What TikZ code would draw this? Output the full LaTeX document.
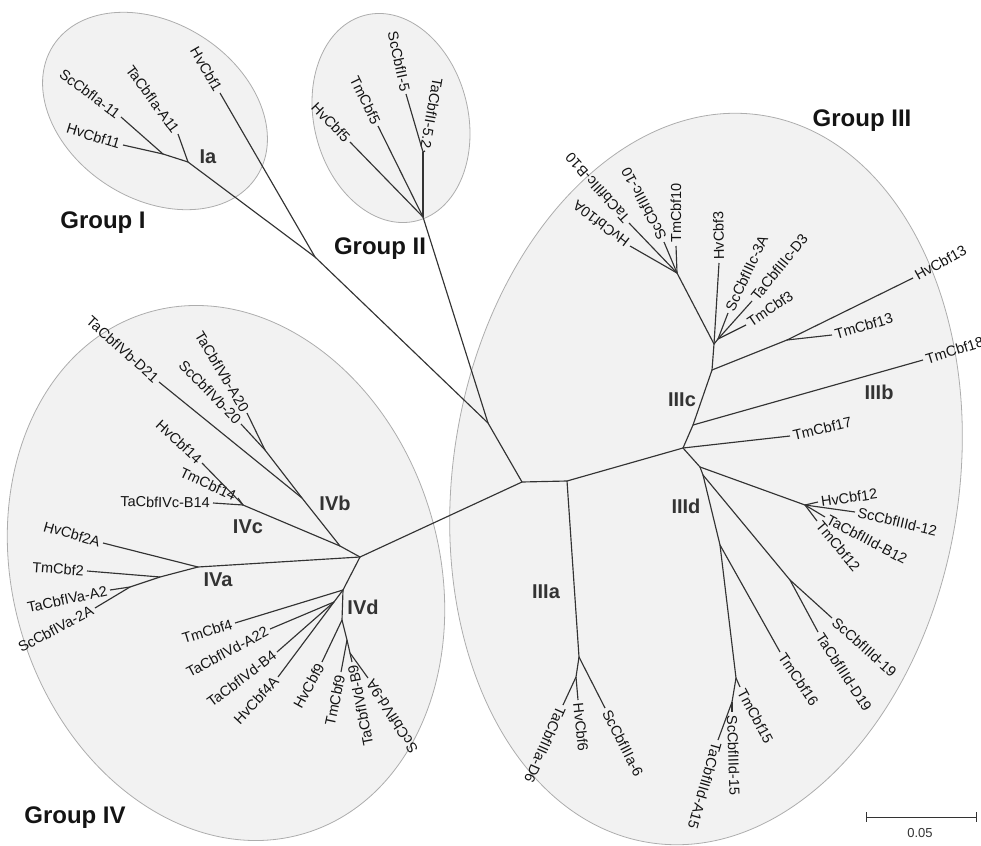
\documentclass[tikz,border=0pt]{standalone}
\usepackage{fontspec}
\setmainfont{Liberation Sans}
\usetikzlibrary{calc}
\tikzstyle{branch}=[draw=black!80, line width=1.15pt]
\tikzstyle{leaf}=[font=\fontsize{14.5}{16}\selectfont, text=black!92, inner sep=3pt]
\tikzstyle{clade}=[font=\fontsize{20}{24}\selectfont\bfseries, text=black!80]
\tikzstyle{grouplabel}=[font=\fontsize{24}{28}\selectfont\bfseries, text=black!92]
\tikzstyle{oval}=[fill=black!5, draw=black!32, line width=0.8pt]

\begin{document}
\begin{tikzpicture}[x=1pt,y=-1pt]
\useasboundingbox (0,0) rectangle (981,845);
\draw[oval, rotate around={-32.6:(155,111)}] (155,111) ellipse [x radius=121, y radius=88];
\draw[oval, rotate around={-76:(391,118)}] (391,118) ellipse [x radius=106, y radius=77];
\draw[oval, rotate around={81.2:(706,479)}] (706,479) ellipse [x radius=368, y radius=253];
\draw[oval, rotate around={-73:(226,573)}] (226,573) ellipse [x radius=272, y radius=213];

\foreach \n/\x/\y in {rA/522/482, rB/567/481, rC/488/423, gI/315/257, nIa/188/162, nIa2/163/154,
  gII/423/217, nII5/423/152, rD/683/448, n18/693/425, n13/712/370, n13b/787/340, nIIIc/714/344,
  nIIIc3/718/339, n10/677/273, nIIIa/579/657, nIIIa6/576/677, nd0/700/467, nd12/805/505,
  nd1/703/475, nd19/790/580, nd16/720/545, nd15/736/678, nd15b/732/702, rIV/360/557,
  nIVbc/340/546, nIVb/302/498, nIVb20/265/450, nIVc/243/505, nIVa/198/567, nIVa2/160/577,
  nIVa3/130/587, nIVd/343/590, nIVd4/334/602, nIVd9/342/620, nIVd9b/347/640, nIVd9c/350/653} {
  \coordinate (\n) at (\x,\y);
}

\foreach \n/\x/\y/\a/\s/\t in {
  tHv1/220/93/-60/east/HvCbf1, tTaIa/178/134/-54/east/TaCbfIa-A11, tScIa/121/117/-37/east/ScCbfIa-11,
  tHv11/123/145/-17/east/HvCbf11,
  tTa5/425/151/-100/east/TaCbfII-5.2, tSc5/406/94/-78/east/ScCbfII-5, tTm5/378/126/-64/east/TmCbf5,
  tHv5/350/142/-46/east/HvCbf5,
  tHv10/630/246/143/west/HvCbf10A, tTa10/629/223/132/west/TaCbfIIIc-B10, tSc10/664/242/118/west/ScCbfIIIc-10,
  tTm10/676/246/90/west/TmCbf10, tHv3/719/263/91/west/HvCbf3, tSc3/728/313/65/west/ScCbfIIIc-3A,
  tTa3/752/301/51/west/TaCbfIIIc-D3, tTm3/746/325/34/west/TmCbf3, tHv13/913/278/29/west/HvCbf13,
  tTm13/832/335/16/west/TmCbf13, tTm18/923/360/17/west/TmCbf18, tTm17/790/436/13/west/TmCbf17,
  tHv12/818/502/8/west/HvCbf12, tSc12/855/512/-13/west/ScCbfIIId-12, tTa12/825/517/-28/west/TaCbfIIId-B12,
  tTm12/817/521/-50/west/TmCbf12, tSc19/832/618/-42/west/ScCbfIIId-19, tTa19/818/632/-57/west/TaCbfIIId-D19,
  tTm16/780/652/-56/west/TmCbf16, tTm15/740/687/-62/west/TmCbf15, tSc15/732/712/-88/west/ScCbfIIId-15,
  tTa15/718/740/-106/west/TaCbfIIId-A15,
  tTa6/563/705/-114/west/TaCbfIIIa-D6, tHv6/578/700/-84/west/HvCbf6, tSc6/605/708/-63/west/ScCbfIIIa-6,
  tTa21/159/382/-42/east/TaCbfIVb-D21, tTa20/247/413/-59/east/TaCbfIVb-A20, tSc20/241/424/-46/east/ScCbfIVb-20,
  tHv14/202/463/-43/east/HvCbf14, tTm14/238/498/-25/east/TmCbf14, tTa14/213/503/-1/east/TaCbfIVc-B14,
  tHv2/103/543/-16/east/HvCbf2A, tTm2/87/571/-4/east/TmCbf2, tTa2/110/590/12/east/TaCbfIVa-A2,
  tSc2/95/608/28/east/ScCbfIVa-2A, tTm4/235/623/17/east/TmCbf4, tTa22/270/629/28/east/TaCbfIVd-A22,
  tTaB4/277/652/37/east/TaCbfIVd-B4, tHv4/278/677/47/east/HvCbf4A, tHv9/322/662/61/east/HvCbf9,
  tTm9/341/672/78/east/TmCbf9, tTa9/352/662/101/east/TaCbfIVd-B9, tSc9/368/678/122/east/ScCbfIVd-9A} {
  \coordinate (\n) at (\x,\y);
  \node[leaf, rotate=\a, anchor=\s] (l\n) at (\n) {\t};
}

\foreach \p/\c in {rA/rB, rA/rC, rA/rIV, rB/rD, rB/nIIIa, rC/gI, rC/gII,
  gI/tHv1, gI/nIa, nIa/tTaIa, nIa/nIa2, nIa2/tScIa, nIa2/tHv11,
  gII/nII5, nII5/tSc5, nII5/tTa5, gII/tTm5, gII/tHv5,
  rD/tTm17, rD/n18, n18/tTm18, n18/n13, n13/n13b, n13b/tHv13, n13b/tTm13, n13/nIIIc,
  nIIIc/tHv3, nIIIc/nIIIc3, nIIIc3/tSc3, nIIIc3/tTa3, nIIIc3/tTm3, nIIIc/n10,
  n10/tHv10, n10/tTa10, n10/tSc10, n10/tTm10,
  rD/nd0, nd0/nd12, nd12/tHv12, nd12/tSc12, nd12/tTa12, nd12/tTm12, nd0/nd1, nd1/nd19,
  nd19/tSc19, nd19/tTa19, nd1/nd16, nd16/tTm16, nd16/nd15, nd15/tTm15, nd15/nd15b,
  nd15b/tSc15, nd15b/tTa15,
  nIIIa/tSc6, nIIIa/nIIIa6, nIIIa6/tHv6, nIIIa6/tTa6,
  rIV/nIVbc, nIVbc/nIVb, nIVb/tTa21, nIVb/nIVb20, nIVb20/tTa20, nIVb20/tSc20,
  nIVbc/nIVc, nIVc/tHv14, nIVc/tTm14, nIVc/tTa14,
  rIV/nIVa, nIVa/tHv2, nIVa/nIVa2, nIVa2/tTm2, nIVa2/nIVa3, nIVa3/tTa2, nIVa3/tSc2,
  rIV/nIVd, nIVd/tTm4, nIVd/nIVd4, nIVd4/tTa22, nIVd4/tTaB4, nIVd4/tHv4, nIVd/nIVd9,
  nIVd9/tHv9, nIVd9/nIVd9b, nIVd9b/tTm9, nIVd9b/nIVd9c, nIVd9c/tTa9, nIVd9c/tSc9} {
  \draw[branch] (\p) -- (\c);
}

\node[clade] (cIa) at (208,157) {Ia};
\node[clade] (cIIIa) at (546,592) {IIIa};
\node[clade] (cIIIb) at (879,392) {IIIb};
\node[clade] (cIIIc) at (682,400) {IIIc};
\node[clade] (cIIId) at (686,506) {IIId};
\node[clade] (cIVa) at (218,580) {IVa};
\node[clade] (cIVb) at (335,503) {IVb};
\node[clade] (cIVc) at (248,527) {IVc};
\node[clade] (cIVd) at (363,607) {IVd};

\node[grouplabel] (gl1) at (103,223) {Group I};
\node[grouplabel] (gl2) at (380,249) {Group II};
\node[grouplabel] (gl3) at (862,121) {Group III};
\node[grouplabel] (gl4) at (75,818) {Group IV};

\coordinate (sbl) at (866,817);
\coordinate (sbr) at (976,817);
\draw[branch, line width=1pt] (sbl) -- (sbr);
\draw[branch, line width=1pt] ($(sbl)+(0,-5)$) -- ($(sbl)+(0,5)$);
\draw[branch, line width=1pt] ($(sbr)+(0,-5)$) -- ($(sbr)+(0,5)$);
\node[font=\fontsize{13}{15}\selectfont, text=black!80] (sbt) at (920,833) {0.05};
\end{tikzpicture}
\end{document}
